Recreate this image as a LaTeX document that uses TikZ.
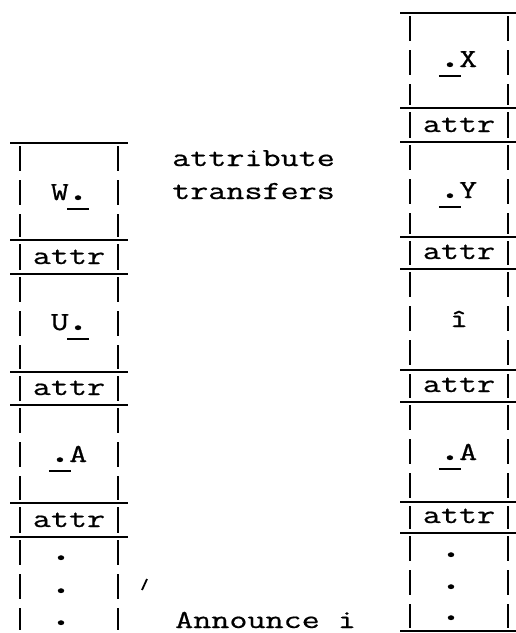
\documentclass[tikz,border=0pt]{standalone}
\usepackage{fontspec}
\setmonofont[FakeStretch=1.35,FakeBold=0.6]{Latin Modern Mono}
% a heavier typed dot, one column wide
\newcommand{\tdot}{\makebox[18.4pt]{\smash{\fontsize{40}{33}\selectfont.}}}
% the same dot with the typed underscore below it
\newcommand{\udot}{\makebox[0pt][l]{\hspace{-1.8pt}\rule[-10pt]{22pt}{2.4pt}}\tdot}

\tikzstyle{hline}=[line width=2.2pt]
\tikzstyle{vbar}=[line width=2pt,dash pattern=on 25pt off 9pt]
\tikzstyle{word}=[inner sep=0pt,anchor=base,font=\ttfamily\fontsize{26}{33}\selectfont]

\begin{document}
\begin{tikzpicture}[x=1pt,y=-1pt]
\useasboundingbox (0,0) rectangle (516,633);
% left stack
\foreach \y in {143,240,274,372,405,503,537} \draw[hline](10,\y)--(128,\y);
\foreach \a/\b in {143/240,274/372,405/503,537/633}{
  \draw[vbar](20,{\a+3})--(20,{\b-3});
  \draw[vbar](118,{\a+3})--(118,{\b-3});
}
\foreach \a/\b [count=\i] in {240/274,372/405,503/537}{
  \draw[line width=2pt](20,{\a+4})--(20,{\b-4});
  \draw[line width=2pt](118,{\a+4})--(118,{\b-4});
  \node(lattr\i)[word] at (69,{\b-10}){attr};
}
\node(w)[word] at (69,200){W\udot};
\node(u)[word] at (69,330){U\udot};
\node(la)[word] at (69,462){\udot A};
\foreach \y [count=\i] in {560,593,625} \node(ldot\i)[word] at (61,\y){\tdot};
% right stack
\foreach \y in {13,108,142,237,269,370,402,502,533,631} \draw[hline](400,\y)--(516,\y);
\foreach \a/\b in {13/108,142/237,269/370,402/502,533/631}{
  \draw[vbar](410,{\a+3})--(410,{\b-3});
  \draw[vbar](508,{\a+3})--(508,{\b-3});
}
\foreach \a/\b [count=\i] in {108/142,237/269,370/402,502/533}{
  \draw[line width=2pt](410,{\a+4})--(410,{\b-4});
  \draw[line width=2pt](508,{\a+4})--(508,{\b-4});
  \node(rattr\i)[word] at (459,{\b-10}){attr};
}
\node(x)[word] at (459,67){\udot X};
\node(y)[word] at (459,198){\udot Y};
\node(ihat)[word] at (459,327){î};
\node(ra)[word] at (459,460){\udot A};
\foreach \y [count=\i] in {557,589,620} \node(rdot\i)[word] at (451,\y){\tdot};
% notes in between
\node(attrib)[word,anchor=base west] at (172,166){attribute};
\node(transf)[word,anchor=base west] at (172,199){transfers};
\node(announce)[word,anchor=base west] at (175,628){Announce i};
\coordinate(tickA) at (142,590);
\coordinate(tickB) at (147,579);
\draw[line width=1.8pt](tickA)--(tickB);
\end{tikzpicture}
\end{document}
